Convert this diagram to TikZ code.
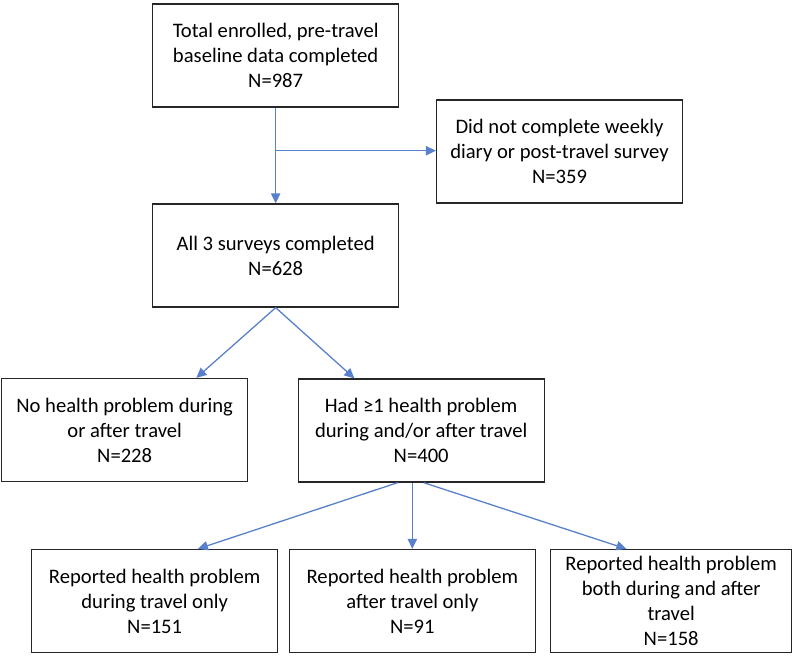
\documentclass[tikz,border=0pt]{standalone}
\usepackage{fontspec}
\setmainfont{Carlito}
\usetikzlibrary{positioning, calc, arrows.meta}
\definecolor{linkblue}{RGB}{88,128,204}
\tikzstyle{box} = [rectangle, minimum width=7.38cm, minimum height=3.09cm, text centered, draw=black!85, line width=1.1pt, font=\fontsize{17.6}{21.3}\selectfont]
\tikzstyle{arrow} = [-{Triangle[length=0.3cm, width=0.28cm]}, draw=linkblue, line width=1.1pt]

\begin{document}
\begin{tikzpicture}[node distance=6cm, align=center]
  \useasboundingbox (0,0) rectangle (24,-19.65);
  %boxes
  \node (total) [box] at (8.27,-1.665) {Total enrolled, pre-travel \\ baseline data completed \\ N=987};
  \node (complete) [box, below of=total] {All 3 surveys completed \\ N=628};
  \node (dropout) [box, right of=total, xshift=2.515cm, yshift=-2.88cm] {Did not complete weekly \\ diary or post-travel survey \\ N=359};
  \node (nohealth) [box, below of=complete, xshift=-4.53cm, yshift=0.765cm] {No health problem during \\ or after travel \\ N=228};
  \node (health) [box, below of=complete, xshift=4.365cm, yshift=0.75cm] {Had ≥1 health problem \\ during and/or after travel \\ N=400};
  \node (after) [box, below of=health, xshift=-0.265cm, yshift=0.885cm] {Reported health problem \\ after travel only \\ N=91};
  \node (during) [box, left of=after, xshift=-1.73cm] {Reported health problem \\ during travel only \\ N=151};
  \node (both) [box, right of=after, xshift=1.765cm, minimum width=7.23cm] {Reported health problem \\ both during and after \\ travel \\ N=158};

  %arrows
  \coordinate (split) at ($(total.south)!0.45!(complete.north)$);
  \draw [arrow](total) -- (complete);
  \draw [arrow](split) -- (split -| dropout.west);
  \draw [arrow](complete.south) -- ($(nohealth.north west)!0.79!(nohealth.north east)$);
  \draw [arrow](complete.south) -- ($(health.north west)!0.23!(health.north east)$);
  \draw [arrow]($(health.south west)!0.405!(health.south east)$) -- ($(during.north west)!0.675!(during.north east)$);
  \draw [arrow](after.north |- health.south) -- (after.north);
  \draw [arrow]($(health.south west)!0.51!(health.south east)$) -- ($(both.north west)!0.315!(both.north east)$);
\end{tikzpicture}
\end{document}
